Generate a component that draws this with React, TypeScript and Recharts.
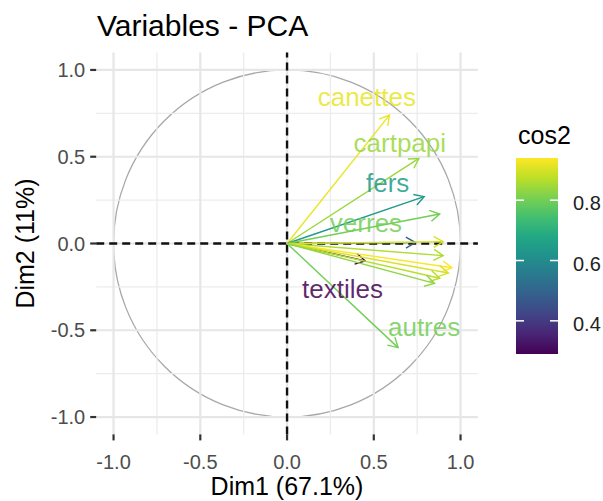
import React from 'react';
import { ComposedChart, XAxis, YAxis, ReferenceLine, ReferenceArea, Scatter } from 'recharts';

// ---- data ----
const arrowNames = ['canettes', 'cartpapi', 'fers', 'verres', 'v5', 'textiles', 'autres', 'v8', 'v9', 'v10', 'v11', 'v12', 'v13'];
const arrowDim1 = [0.59, 0.76, 0.79, 0.88, 0.74, 0.45, 0.64, 0.90, 0.90, 0.95, 0.93, 0.88, 0.85];
const arrowDim2 = [0.74, 0.49, 0.27, 0.17, 0.005, -0.10, -0.60, 0.01, -0.07, -0.14, -0.17, -0.20, -0.23];
const arrowCos2 = [0.92, 0.84, 0.64, 0.80, 0.48, 0.29, 0.80, 0.90, 0.86, 0.94, 0.90, 0.87, 0.83];

const labelNames = ['canettes', 'cartpapi', 'fers', 'verres', 'textiles', 'autres'];
const labelDim1 = [0.46, 0.65, 0.58, 0.455, 0.32, 0.79];
const labelDim2 = [0.845, 0.58, 0.35, 0.12, -0.26, -0.48];

const majorTicks = [-1, -0.5, 0, 0.5, 1];
const minorTicks = [-0.75, -0.25, 0.25, 0.75];
const legendTicks = [0.4, 0.6, 0.8];

const titleText = 'Variables - PCA';
const xTitle = 'Dim1 (67.1%)';
const yTitle = 'Dim2 (11%)';
const legendTitle = 'cos2';

// ---- styles ----
const FONT = '"Liberation Sans", Arial, Helvetica, sans-serif';
const VIRIDIS = ['#440154', '#482475', '#414487', '#355f8d', '#2a788e', '#21918c', '#22a884', '#44bf70', '#7ad151', '#bddf26', '#fde725'];
const cMin = Math.min(...arrowCos2);
const cMax = Math.max(...arrowCos2);

function hexToRgb(h: string) {
  return [parseInt(h.slice(1, 3), 16), parseInt(h.slice(3, 5), 16), parseInt(h.slice(5, 7), 16)];
}
function viridis(v: number) {
  let t = (v - cMin) / (cMax - cMin);
  t = Math.max(0, Math.min(1, t));
  const p = t * (VIRIDIS.length - 1);
  const i = Math.min(Math.floor(p), VIRIDIS.length - 2);
  const f = p - i;
  const a = hexToRgb(VIRIDIS[i]);
  const b = hexToRgb(VIRIDIS[i + 1]);
  const c = a.map((av, k) => Math.round(av + (b[k] - av) * f));
  return `rgb(${c[0]},${c[1]},${c[2]})`;
}

const arrows = arrowNames.map((n, i) => ({ name: n, x: arrowDim1[i], y: arrowDim2[i], cos2: arrowCos2[i] }));
const labels = labelNames.map((n, i) => {
  const idx = arrowNames.indexOf(n);
  return { name: n, x: labelDim1[i], y: labelDim2[i], cos2: arrowCos2[idx] };
});

const fmt = (v: number) => (v < 0 ? '-' : '') + Math.abs(v).toFixed(1);

const XTick = (props: any) => {
  const { x, y, payload } = props;
  return (
    <g>
      <line x1={x} x2={x} y1={y} y2={y + 6} stroke="#333" strokeWidth={2.2} />
      <text x={x} y={y + 35} textAnchor="middle" fontFamily={FONT} fontSize={20} fill="#4d4d4d">
        {fmt(payload.value)}
      </text>
    </g>
  );
};

const YTick = (props: any) => {
  const { x, y, payload } = props;
  return (
    <g>
      <line x1={x - 6} x2={x} y1={y} y2={y} stroke="#333" strokeWidth={2.2} />
      <text x={x - 11} y={y + 7} textAnchor="end" fontFamily={FONT} fontSize={20} fill="#4d4d4d">
        {fmt(payload.value)}
      </text>
    </g>
  );
};

const makeArrow = (color: string) => (props: any) => {
  const { x1, y1, x2, y2 } = props;
  const ang = Math.atan2(y2 - y1, x2 - x1);
  const L = 11;
  const a = Math.PI / 6;
  const p1x = x2 - L * Math.cos(ang - a);
  const p1y = y2 - L * Math.sin(ang - a);
  const p2x = x2 - L * Math.cos(ang + a);
  const p2y = y2 - L * Math.sin(ang + a);
  return (
    <g>
      <line x1={x1} y1={y1} x2={x2} y2={y2} stroke={color} strokeWidth={1.4} />
      <polyline points={`${p1x},${p1y} ${x2},${y2} ${p2x},${p2y}`} fill="none" stroke={color} strokeWidth={1.4} />
    </g>
  );
};

const CircleShape = (props: any) => {
  const { x, y, width, height } = props;
  return (
    <ellipse cx={x + width / 2} cy={y + height / 2} rx={Math.abs(width) / 2} ry={Math.abs(height) / 2} fill="none" stroke="#a8a8a8" strokeWidth={1.3} />
  );
};

const LabelShape = (props: any) => {
  const { cx, cy, payload } = props;
  return (
    <text x={cx} y={cy} dy="0.35em" textAnchor="middle" fontFamily={FONT} fontSize={26} fill={viridis(payload.cos2)} fillOpacity={0.85}>
      {payload.name}
    </text>
  );
};

const Legend = () => {
  const barX = 516;
  const barW = 42;
  const barTop = 158;
  const barH = 196;
  const yOf = (v: number) => barTop + ((cMax - v) / (cMax - cMin)) * barH;
  return (
    <svg width={603} height={501} style={{ position: 'absolute', left: 0, top: 0, pointerEvents: 'none' }}>
      <defs>
        <linearGradient id="vir" x1="0" y1="1" x2="0" y2="0">
          {VIRIDIS.map((c, i) => (
            <stop key={i} offset={`${(i / (VIRIDIS.length - 1)) * 100}%`} stopColor={c} />
          ))}
        </linearGradient>
      </defs>
      <text x={518} y={144} fontFamily={FONT} fontSize={25} fill="#000">
        {legendTitle}
      </text>
      <rect x={barX} y={barTop} width={barW} height={barH} fill="url(#vir)" />
      {legendTicks.map((t) => (
        <g key={t}>
          <line x1={barX} x2={barX + 8} y1={yOf(t)} y2={yOf(t)} stroke="#fff" strokeWidth={1.5} />
          <line x1={barX + barW - 8} x2={barX + barW} y1={yOf(t)} y2={yOf(t)} stroke="#fff" strokeWidth={1.5} />
          <text x={573} y={yOf(t) + 10} fontFamily={FONT} fontSize={20} fill="#222">
            {t.toFixed(1)}
          </text>
        </g>
      ))}
    </svg>
  );
};

export default function App() {
  return (
    <div style={{ position: 'absolute', left: 0, top: 0, width: 603, height: 501, background: '#fff' }}>
      <ComposedChart width={603} height={501} margin={{ top: 52.6, right: 125.1, bottom: 26.6, left: 36.2 }}>
        <XAxis
          type="number"
          dataKey="x"
          domain={[-1.1, 1.1]}
          allowDataOverflow
          ticks={majorTicks}
          interval={0}
          height={40}
          axisLine={false}
          tickLine={false}
          tickSize={0}
          tickMargin={0}
          tick={<XTick />}
        />
        <YAxis
          type="number"
          dataKey="y"
          domain={[-1.1, 1.1]}
          allowDataOverflow
          ticks={majorTicks}
          interval={0}
          width={60}
          axisLine={false}
          tickLine={false}
          tickSize={0}
          tickMargin={0}
          tick={<YTick />}
        />
        {minorTicks.map((v) => (
          <ReferenceLine key={`mx${v}`} x={v} stroke="#ececec" strokeWidth={1.3} />
        ))}
        {minorTicks.map((v) => (
          <ReferenceLine key={`my${v}`} y={v} stroke="#ececec" strokeWidth={1.3} />
        ))}
        {majorTicks.map((v) => (
          <ReferenceLine key={`Mx${v}`} x={v} stroke="#e6e6e6" strokeWidth={2.2} />
        ))}
        {majorTicks.map((v) => (
          <ReferenceLine key={`My${v}`} y={v} stroke="#e6e6e6" strokeWidth={2.2} />
        ))}
        <ReferenceArea x1={-1} x2={1} y1={-1} y2={1} shape={<CircleShape />} />
        <ReferenceLine x={0} stroke="#111" strokeWidth={2.4} strokeDasharray="8 5" />
        <ReferenceLine y={0} stroke="#111" strokeWidth={2.4} strokeDasharray="8 5" />
        {arrows.map((a) => (
          <ReferenceLine
            key={a.name}
            segment={[{ x: 0, y: 0 }, { x: a.x, y: a.y }]}
            shape={makeArrow(viridis(a.cos2))}
          />
        ))}
        <Scatter data={labels} dataKey="y" isAnimationActive={false} shape={<LabelShape />} />
        <text x={97} y={36} fontFamily={FONT} fontSize={30} fill="#000">
          {titleText}
        </text>
        <text x={287} y={495} textAnchor="middle" fontFamily={FONT} fontSize={25} fill="#000">
          {xTitle}
        </text>
        <text x={34} y={243.5} textAnchor="middle" fontFamily={FONT} fontSize={25} fill="#000" transform="rotate(-90 34 243.5)">
          {yTitle}
        </text>
      </ComposedChart>
      <Legend />
    </div>
  );
}
